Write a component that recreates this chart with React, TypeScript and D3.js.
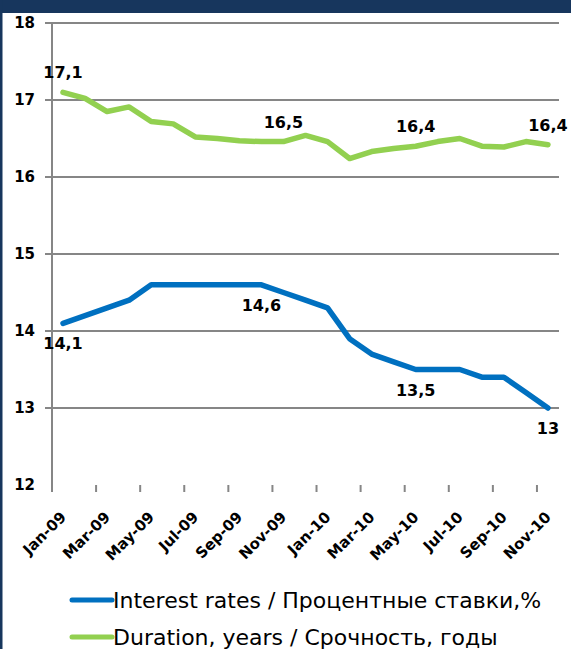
import React from "react";
import * as d3 from "d3";

const months = [
  "Jan-09","Feb-09","Mar-09","Apr-09","May-09","Jun-09","Jul-09","Aug-09","Sep-09","Oct-09","Nov-09","Dec-09",
  "Jan-10","Feb-10","Mar-10","Apr-10","May-10","Jun-10","Jul-10","Aug-10","Sep-10","Oct-10","Nov-10",
];
const interestRates = [14.1,14.2,14.3,14.4,14.6,14.6,14.6,14.6,14.6,14.6,14.5,14.4,14.3,13.9,13.7,13.6,13.5,13.5,13.5,13.4,13.4,13.2,13.0];
const duration = [17.1,17.02,16.85,16.91,16.72,16.69,16.52,16.5,16.47,16.46,16.46,16.54,16.46,16.24,16.33,16.37,16.4,16.46,16.5,16.4,16.39,16.46,16.42];
const yTicks = [12,13,14,15,16,17,18];
const rateLabels = [
  { i: 0, text: "14,1", pos: "below" },
  { i: 9, text: "14,6", pos: "below" },
  { i: 16, text: "13,5", pos: "below" },
  { i: 22, text: "13", pos: "below" },
];
const durationLabels = [
  { i: 0, text: "17,1", pos: "above" },
  { i: 10, text: "16,5", pos: "above" },
  { i: 16, text: "16,4", pos: "above" },
  { i: 22, text: "16,4", pos: "above" },
];
const legendItems = [
  { name: "Interest rates / Процентные ставки,%", color: "#0070C0" },
  { name: "Duration, years / Срочность, годы", color: "#92D050" },
];

const W = 571, H = 649;
const FONT = "'DejaVu Sans', Verdana, sans-serif";

export default function App() {
  const x = d3.scaleBand<string>().domain(months).range([52, 559]).padding(0);
  const y = d3.scaleLinear().domain([12, 18]).range([485, 23]);
  const cx = (i: number) => (x(months[i]) as number) + x.bandwidth() / 2;
  const line = d3.line<number>().x((_, i) => cx(i)).y((d) => y(d));
  const tickMonths = months.filter((_, i) => i % 2 === 0);

  const labelEls = (labels: any[], data: number[]) =>
    labels.map((l, k) => (
      <text
        key={k}
        x={cx(l.i)}
        y={l.pos === "above" ? y(data[l.i]) - 14 : y(data[l.i]) + 26}
        textAnchor="middle"
        fontSize={16}
        fontWeight="bold"
        fontFamily={FONT}
        fill="#000"
      >
        {l.text}
      </text>
    ));

  return (
    <svg
      width={W}
      height={H}
      style={{ position: "absolute", left: 0, top: 0, display: "block", background: "#fff" }}
    >
      <rect x={0} y={0} width={W} height={H} fill="#fff" />
      <rect x={0} y={0} width={W} height={13} fill="#17365D" />
      <rect x={0} y={0} width={2.5} height={H} fill="#17365D" />

      {/* gridlines */}
      {yTicks.filter((t) => t !== 12).map((t) => (
        <line key={t} x1={45} x2={559} y1={y(t)} y2={y(t)} stroke="#868686" strokeWidth={2} />
      ))}
      {/* y axis */}
      <line x1={52} x2={52} y1={y(18)} y2={492} stroke="#868686" strokeWidth={2} />
      {yTicks.map((t) => (
        <text
          key={t}
          x={35}
          y={y(t)}
          dy="0.36em"
          textAnchor="end"
          fontSize={15}
          fontWeight="bold"
          fontFamily={FONT}
          fill="#000"
        >
          {t}
        </text>
      ))}

      {/* x ticks */}
      {tickMonths.map((m) => (
        <line key={m} x1={x(m) as number} x2={x(m) as number} y1={485} y2={492} stroke="#868686" strokeWidth={2} />
      ))}
      {tickMonths.map((m) => {
        const i = months.indexOf(m);
        const tx = cx(i) + 4;
        const ty = 518;
        return (
          <text
            key={m}
            transform={`translate(${tx},${ty}) rotate(-45)`}
            textAnchor="end"
            fontSize={15}
            fontWeight="bold"
            fontFamily={FONT}
            fill="#000"
          >
            {m}
          </text>
        );
      })}

      {/* lines */}
      <path d={line(duration) || ""} fill="none" stroke="#92D050" strokeWidth={5.5} strokeLinejoin="round" strokeLinecap="round" />
      <path d={line(interestRates) || ""} fill="none" stroke="#0070C0" strokeWidth={5.5} strokeLinejoin="round" strokeLinecap="round" />

      {labelEls(durationLabels, duration)}
      {labelEls(rateLabels, interestRates)}

      {/* legend */}
      {legendItems.map((it, k) => (
        <g key={it.name}>
          <line x1={72} x2={112} y1={600 + k * 37} y2={600 + k * 37} stroke={it.color} strokeWidth={5} strokeLinecap="round" />
          <text x={113} y={600 + k * 37} dy="0.36em" fontSize={22} fontFamily={FONT} fill="#000">
            {it.name}
          </text>
        </g>
      ))}
    </svg>
  );
}
